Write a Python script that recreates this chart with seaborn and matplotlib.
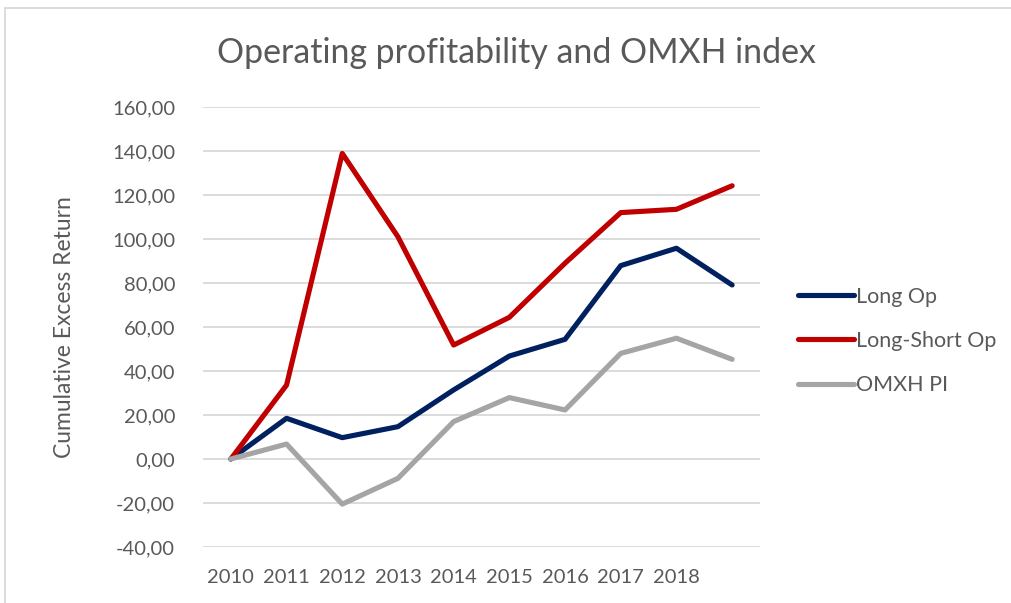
import matplotlib
matplotlib.use("Agg")
import matplotlib.pyplot as plt
from matplotlib.lines import Line2D
import seaborn as sns
import pandas as pd

years = ["2010", "2011", "2012", "2013", "2014", "2015", "2016", "2017", "2018", ""]
long_op = [0.0, 18.5, 9.7, 14.7, 31.4, 46.8, 54.4, 87.9, 95.8, 79.1]
long_short_op = [0.0, 33.6, 138.9, 101.0, 51.8, 64.4, 89.0, 112.0, 113.5, 124.2]
omxh_pi = [0.0, 6.8, -20.5, -8.8, 17.0, 27.9, 22.3, 48.0, 54.9, 45.3]
series_names = ["Long Op", "Long-Short Op", "OMXH PI"]
yticks = [-40, -20, 0, 20, 40, 60, 80, 100, 120, 140, 160]

colors = {"Long Op": "#002060", "Long-Short Op": "#C00000", "OMXH PI": "#A5A5A5"}

rows = []
for name, vals in zip(series_names, [long_op, long_short_op, omxh_pi]):
    for i, v in enumerate(vals):
        rows.append({"idx": i, "value": v, "series": name})
df = pd.DataFrame(rows)

sns.set_theme(style="white")
plt.rcParams["font.family"] = ["Lato", "DejaVu Sans"]
text_color = "#595959"

fig = plt.figure(figsize=(10.11, 6.03), dpi=100)
ax = fig.add_axes([203 / 1011, 1 - 547 / 603, 557 / 1011, 440 / 603])

sns.lineplot(data=df, x="idx", y="value", hue="series", hue_order=series_names,
             palette=colors, linewidth=3.7, ax=ax, legend=False, sort=False,
             solid_capstyle="round", solid_joinstyle="round")

ax.set_xlim(-0.5, len(years) - 0.5)
ax.set_ylim(-40, 160)
ax.set_yticks(yticks)
ax.set_yticklabels([f"{t:.2f}".replace(".", ",") for t in yticks])
ax.set_xticks(range(len(years)))
ax.set_xticklabels(years)
ax.tick_params(axis="both", length=0, labelsize=14.5, labelcolor=text_color)
ax.tick_params(axis="y", pad=20)
ax.tick_params(axis="x", pad=16)
ax.grid(axis="y", color="#D9D9D9", linewidth=1.3)
ax.set_axisbelow(True)
for s in ax.spines.values():
    s.set_visible(False)
ax.set_xlabel("")
ax.set_ylabel("Cumulative Excess Return", fontsize=16.5, color=text_color, labelpad=27)

fig.text(516 / 1011, 1 - 53 / 603, "Operating profitability and OMXH index",
         ha="center", va="center", fontsize=24.4, color=text_color)

handles = [Line2D([0], [0], color=colors[n], linewidth=3.7, solid_capstyle="round") for n in series_names]
fig.legend(handles, series_names, loc="center left", bbox_to_anchor=(779 / 1011, 1 - 341 / 603),
           frameon=False, fontsize=15.5, labelcolor=text_color, handlelength=2.6,
           handletextpad=0.1, labelspacing=1.12)

# chart border (top and left visible)
fig.add_artist(Line2D([5 / 1011, 5 / 1011], [0, 1 - 8 / 603], transform=fig.transFigure,
                      color="#D9D9D9", linewidth=1.3))
fig.add_artist(Line2D([5 / 1011, 1], [1 - 8 / 603, 1 - 8 / 603], transform=fig.transFigure,
                      color="#D9D9D9", linewidth=1.3))

fig.savefig("out.png", dpi=100)
